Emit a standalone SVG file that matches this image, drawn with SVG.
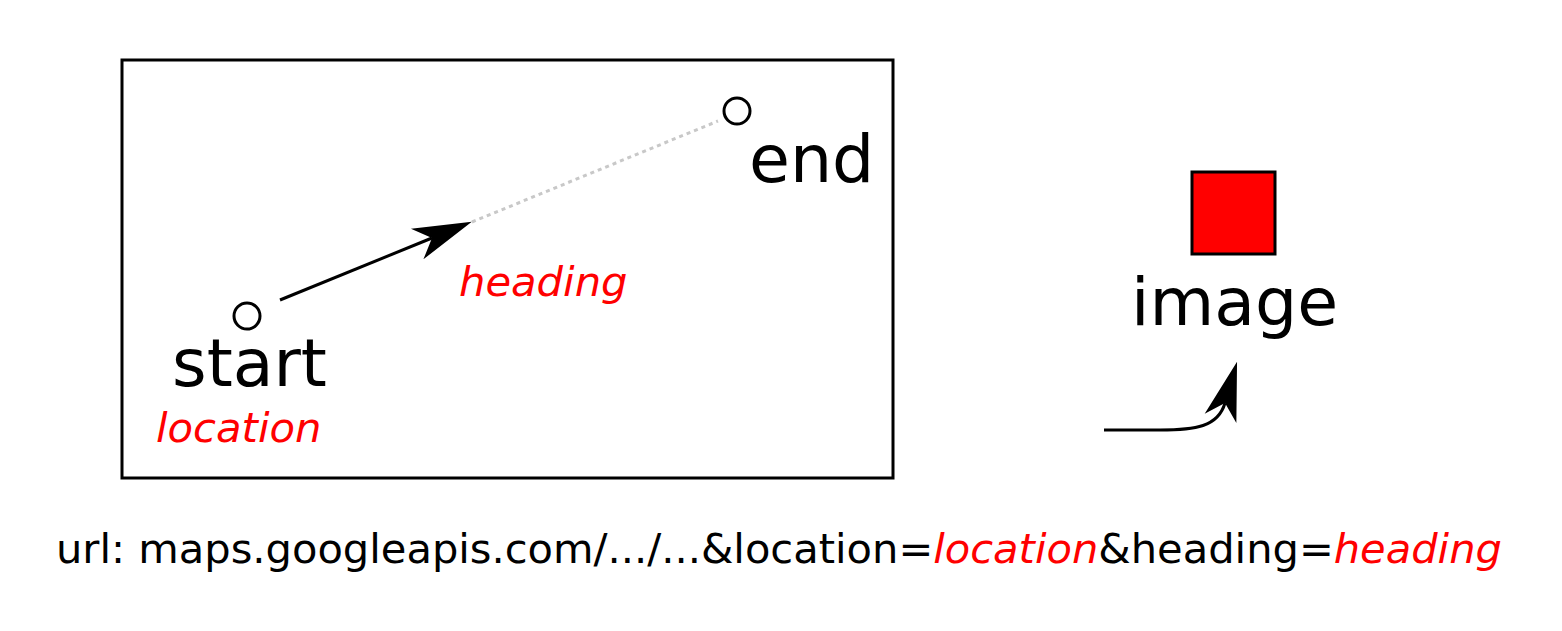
<svg xmlns="http://www.w3.org/2000/svg" width="1562" height="631" viewBox="0 0 1562 631">
<style>
text{font-family:"DejaVu Sans",sans-serif;fill:#000}
.big{font-size:66.5px}
.red{fill:#ff0000;font-style:italic}
.lbl{font-size:41.7px}
.pt{fill:#fff;stroke:#000;stroke-width:3}
.ln{fill:none;stroke:#000;stroke-width:3}
</style>
<defs>
<marker id="ah" markerUnits="userSpaceOnUse" orient="auto" refX="0" refY="0" markerWidth="70" markerHeight="40" viewBox="-20 -20 70 40" overflow="visible">
<path d="M43,0 L-16,-16.5 L0,0 L-16,16.5 Z" fill="#000"/>
</marker>
</defs>
<rect id="frame" x="122" y="60" width="771" height="418" fill="none" stroke="#000" stroke-width="3"/>
<g id="connectors">
<line x1="472" y1="222" x2="718" y2="121" stroke="#c8c8c8" stroke-width="3" stroke-dasharray="4 4"/>
<line class="ln" x1="280" y1="300" x2="432" y2="238" marker-end="url(#ah)"/>
<path class="ln" d="M1104,430 L1160,430 C1195,430 1218,427 1225,403" marker-end="url(#ah)"/>
</g>
<g id="start">
<circle class="pt" cx="247" cy="316" r="13"/>
<text class="big" x="172" y="386">start</text>
<text class="lbl red" x="156" y="442">location</text>
</g>
<g id="end">
<circle class="pt" cx="737" cy="111" r="13"/>
<text class="big" x="749" y="182">end</text>
</g>
<g id="heading">
<text class="lbl red" x="459" y="296">heading</text>
</g>
<g id="image">
<rect x="1192" y="172" width="83" height="82" fill="#ff0000" stroke="#000" stroke-width="3"/>
<text class="big" x="1131" y="325">image</text>
</g>
<g id="url">
<text x="56" y="563" font-size="41.6">url: maps.googleapis.com/.../...&amp;location=<tspan class="red">location</tspan>&amp;heading=<tspan class="red">heading</tspan></text>
</g>
</svg>
